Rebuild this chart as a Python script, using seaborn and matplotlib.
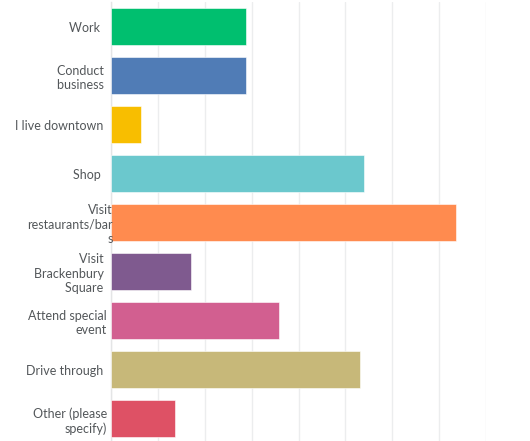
import matplotlib
matplotlib.use("Agg")
import matplotlib.pyplot as plt
import matplotlib.transforms as mtransforms
import seaborn as sns
import pandas as pd

# Reasons for coming downtown (percent of respondents)
categories = [
    "Work  ",
    "Conduct \nbusiness ",
    "I live downtown ",
    "Shop  ",
    "Visit\nrestaurants/bar\ns",
    "Visit \nBrackenbury \nSquare ",
    "Attend special\nevent",
    "Drive through ",
    "Other (please\nspecify)",
]
values = [28.7, 28.7, 6.5, 54.0, 73.7, 17.1, 35.9, 53.2, 13.7]
colors = ["#00BF6F", "#507CB6", "#F8BE00", "#6BC8CD", "#FF8B4F",
          "#7F5A8F", "#D25F90", "#C7B879", "#DE5165"]
x_ticks = [0, 10, 20, 30, 40, 50, 60, 70, 80]

df = pd.DataFrame({"reason": categories, "pct": values})

sns.set_theme(style="white")
plt.rcParams["font.family"] = ["Lato", "DejaVu Sans"]

fig = plt.figure(figsize=(5.30, 4.41), dpi=100)
ax = fig.add_axes([111 / 530, -2.2 / 441, (486 - 111) / 530, 441.0 / 441])

sns.barplot(data=df, x="pct", y="reason", hue="reason", palette=colors,
            legend=False, orient="h", width=0.745, saturation=1,
            edgecolor="white", linewidth=0.4, ax=ax, zorder=3)

ax.set_xlim(0, 80)
ax.set_ylim(8.5, -0.5)
ax.set_xticks(x_ticks)
ax.set_xticklabels([])
ax.xaxis.grid(True, color="#ECEDEE", linewidth=1.0, zorder=0)
ax.set_axisbelow(True)
ax.yaxis.set_zorder(5)
for side in ("top", "right", "bottom"):
    ax.spines[side].set_visible(False)
ax.spines["left"].set_color("#E4E5E6")
ax.spines["left"].set_linewidth(1.0)
ax.set_xlabel("")
ax.set_ylabel("")
ax.tick_params(axis="both", length=0)
ax.tick_params(axis="y", pad=3, labelsize=9, labelcolor="#53575A")

for lbl in ax.get_yticklabels():
    lbl.set_multialignment("right")
    lbl.set_linespacing(1.25)
    if lbl.get_text().startswith("Visit\nrestaurants"):
        lbl.set_transform(lbl.get_transform() +
                          mtransforms.ScaledTranslation(6 / 100, 0, fig.dpi_scale_trans))

fig.savefig("out.png", dpi=100)
